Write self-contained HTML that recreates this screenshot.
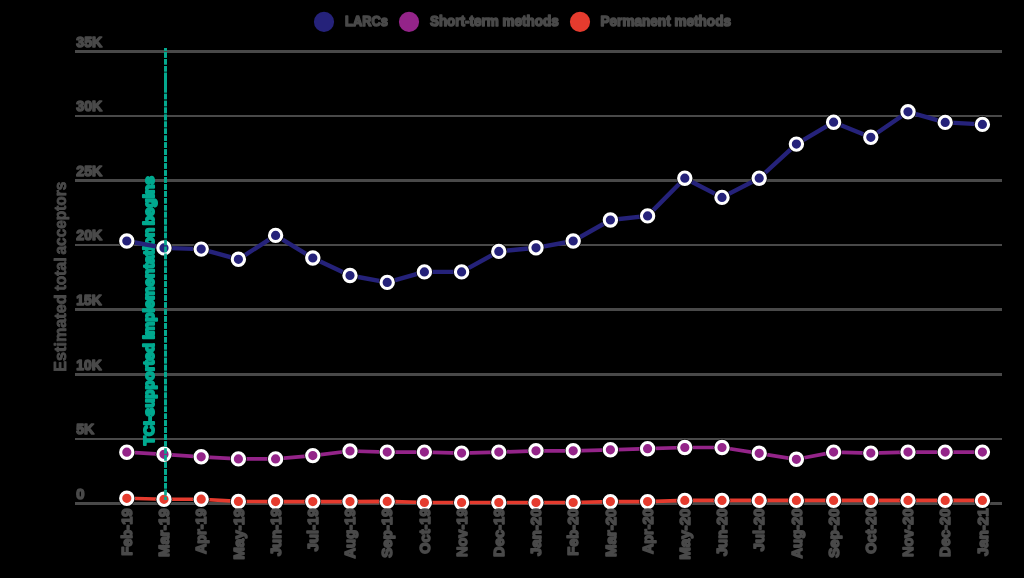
<!DOCTYPE html>
<html><head><meta charset="utf-8"><title>chart</title>
<style>
html,body{margin:0;padding:0;background:#000;}
body{width:1024px;height:578px;overflow:hidden;}
svg{display:block;}
text{font-family:"Liberation Sans",sans-serif;font-weight:bold;}
</style></head><body>
<svg width="1024" height="578" viewBox="0 0 1024 578">
<rect width="1024" height="578" fill="#000"/>
<defs><filter id="bl" x="-10%" y="-30%" width="120%" height="160%"><feGaussianBlur stdDeviation="0.3"/></filter></defs>
<g fill="#494949" shape-rendering="crispEdges">
<rect x="75" y="50" width="927" height="3"/>
<rect x="75" y="115" width="927" height="2"/>
<rect x="75" y="179" width="927" height="3"/>
<rect x="75" y="244" width="927" height="2"/>
<rect x="75" y="308" width="927" height="3"/>
<rect x="75" y="373" width="927" height="3"/>
<rect x="75" y="438" width="927" height="2"/>
<rect x="75" y="502" width="927" height="3"/>
</g>
<g fill="#494949" stroke="#494949" stroke-width="1.6" stroke-linejoin="round" font-size="15" filter="url(#bl)">
<text x="76.3" y="46.8" textLength="26.0" lengthAdjust="spacingAndGlyphs">35K</text>
<text x="76.3" y="111.3" textLength="26.0" lengthAdjust="spacingAndGlyphs">30K</text>
<text x="76.3" y="175.8" textLength="26.0" lengthAdjust="spacingAndGlyphs">25K</text>
<text x="76.3" y="240.3" textLength="26.0" lengthAdjust="spacingAndGlyphs">20K</text>
<text x="76.3" y="304.8" textLength="25.3" lengthAdjust="spacingAndGlyphs">15K</text>
<text x="76.3" y="369.8" textLength="25.3" lengthAdjust="spacingAndGlyphs">10K</text>
<text x="76.3" y="434.3" textLength="18.0" lengthAdjust="spacingAndGlyphs">5K</text>
<text x="76.3" y="498.8" textLength="8.2" lengthAdjust="spacingAndGlyphs">0</text>
</g>
<g filter="url(#bl)">
<text transform="translate(65.8,371.75) rotate(-90)" fill="#494949" stroke="#494949" stroke-width="0.9" stroke-linejoin="round" font-size="16.3" lengthAdjust="spacingAndGlyphs" textLength="77.4">Estimated</text>
<text transform="translate(65.8,290.40) rotate(-90)" fill="#494949" stroke="#494949" stroke-width="0.9" stroke-linejoin="round" font-size="16.3" lengthAdjust="spacingAndGlyphs" textLength="33.0">total</text>
<text transform="translate(65.8,254.50) rotate(-90)" fill="#494949" stroke="#494949" stroke-width="0.9" stroke-linejoin="round" font-size="16.3" lengthAdjust="spacingAndGlyphs" textLength="72.8">acceptors</text>
</g>
<circle cx="324" cy="21.8" r="10.1" fill="#25227a"/>
<circle cx="409" cy="21.8" r="10.1" fill="#942489"/>
<circle cx="580" cy="21.8" r="10.1" fill="#e53b2e"/>
<g fill="#494949" stroke="#494949" stroke-width="1.6" stroke-linejoin="round" font-size="15" filter="url(#bl)">
<text x="345.0" y="25.8" textLength="43.0" lengthAdjust="spacingAndGlyphs">LARCs</text>
<text x="429.9" y="25.8" textLength="128.8" lengthAdjust="spacingAndGlyphs">Short-term methods</text>
<text x="600.5" y="25.8" textLength="130.5" lengthAdjust="spacingAndGlyphs">Permanent methods</text>
</g>
<g filter="url(#bl)">
<text transform="translate(153.8,445.20) rotate(-90)" font-size="15" fill="#05a98f" stroke="#05a98f" stroke-width="2.1" stroke-linejoin="round" lengthAdjust="spacingAndGlyphs" textLength="102.1">TCI-supported</text>
<text transform="translate(153.8,339.35) rotate(-90)" font-size="15" fill="#05a98f" stroke="#05a98f" stroke-width="2.1" stroke-linejoin="round" lengthAdjust="spacingAndGlyphs" textLength="111.7">implementation</text>
<text transform="translate(153.8,225.25) rotate(-90)" font-size="15" fill="#05a98f" stroke="#05a98f" stroke-width="2.1" stroke-linejoin="round" lengthAdjust="spacingAndGlyphs" textLength="48.9">begins</text>
</g>
<line x1="165.5" y1="48" x2="165.5" y2="500" stroke="#05a98f" stroke-width="3" stroke-dasharray="5.65 1.3" stroke-dashoffset="2.95"/>
<line x1="165.5" y1="72.8" x2="165.5" y2="91.6" stroke="#05a98f" stroke-width="3"/>
<polyline points="126.8,241.0 164.0,247.9 201.2,249.1 238.4,259.3 275.6,235.4 312.8,258.0 350.0,275.5 387.2,282.4 424.4,271.9 461.6,271.9 498.8,251.4 536.0,247.8 573.2,241.0 610.4,220.0 647.6,215.9 684.8,178.2 722.0,197.4 759.2,178.2 796.4,144.1 833.6,122.2 870.8,137.3 908.0,111.8 945.2,122.4 982.4,124.4" fill="none" stroke="#25227a" stroke-width="4.4" stroke-linejoin="round"/>
<g fill="#000">
<circle cx="126.8" cy="241.0" r="8.3"/><circle cx="164.0" cy="247.9" r="8.3"/><circle cx="201.2" cy="249.1" r="8.3"/><circle cx="238.4" cy="259.3" r="8.3"/><circle cx="275.6" cy="235.4" r="8.3"/><circle cx="312.8" cy="258.0" r="8.3"/><circle cx="350.0" cy="275.5" r="8.3"/><circle cx="387.2" cy="282.4" r="8.3"/><circle cx="424.4" cy="271.9" r="8.3"/><circle cx="461.6" cy="271.9" r="8.3"/><circle cx="498.8" cy="251.4" r="8.3"/><circle cx="536.0" cy="247.8" r="8.3"/><circle cx="573.2" cy="241.0" r="8.3"/><circle cx="610.4" cy="220.0" r="8.3"/><circle cx="647.6" cy="215.9" r="8.3"/><circle cx="684.8" cy="178.2" r="8.3"/><circle cx="722.0" cy="197.4" r="8.3"/><circle cx="759.2" cy="178.2" r="8.3"/><circle cx="796.4" cy="144.1" r="8.3"/><circle cx="833.6" cy="122.2" r="8.3"/><circle cx="870.8" cy="137.3" r="8.3"/><circle cx="908.0" cy="111.8" r="8.3"/><circle cx="945.2" cy="122.4" r="8.3"/><circle cx="982.4" cy="124.4" r="8.3"/>
</g>
<g fill="#25227a" stroke="#fff" stroke-width="3.1">
<circle cx="126.8" cy="241.0" r="6.15"/><circle cx="164.0" cy="247.9" r="6.15"/><circle cx="201.2" cy="249.1" r="6.15"/><circle cx="238.4" cy="259.3" r="6.15"/><circle cx="275.6" cy="235.4" r="6.15"/><circle cx="312.8" cy="258.0" r="6.15"/><circle cx="350.0" cy="275.5" r="6.15"/><circle cx="387.2" cy="282.4" r="6.15"/><circle cx="424.4" cy="271.9" r="6.15"/><circle cx="461.6" cy="271.9" r="6.15"/><circle cx="498.8" cy="251.4" r="6.15"/><circle cx="536.0" cy="247.8" r="6.15"/><circle cx="573.2" cy="241.0" r="6.15"/><circle cx="610.4" cy="220.0" r="6.15"/><circle cx="647.6" cy="215.9" r="6.15"/><circle cx="684.8" cy="178.2" r="6.15"/><circle cx="722.0" cy="197.4" r="6.15"/><circle cx="759.2" cy="178.2" r="6.15"/><circle cx="796.4" cy="144.1" r="6.15"/><circle cx="833.6" cy="122.2" r="6.15"/><circle cx="870.8" cy="137.3" r="6.15"/><circle cx="908.0" cy="111.8" r="6.15"/><circle cx="945.2" cy="122.4" r="6.15"/><circle cx="982.4" cy="124.4" r="6.15"/>
</g>
<polyline points="126.8,452.2 164.0,454.3 201.2,456.8 238.4,458.9 275.6,458.9 312.8,455.6 350.0,451.0 387.2,452.1 424.4,452.1 461.6,453.1 498.8,452.1 536.0,450.8 573.2,450.8 610.4,449.8 647.6,448.7 684.8,447.5 722.0,447.5 759.2,453.3 796.4,459.3 833.6,452.1 870.8,453.1 908.0,452.1 945.2,452.1 982.4,452.1" fill="none" stroke="#942489" stroke-width="3.7" stroke-linejoin="round"/>
<g fill="#000">
<circle cx="126.8" cy="452.2" r="8.3"/><circle cx="164.0" cy="454.3" r="8.3"/><circle cx="201.2" cy="456.8" r="8.3"/><circle cx="238.4" cy="458.9" r="8.3"/><circle cx="275.6" cy="458.9" r="8.3"/><circle cx="312.8" cy="455.6" r="8.3"/><circle cx="350.0" cy="451.0" r="8.3"/><circle cx="387.2" cy="452.1" r="8.3"/><circle cx="424.4" cy="452.1" r="8.3"/><circle cx="461.6" cy="453.1" r="8.3"/><circle cx="498.8" cy="452.1" r="8.3"/><circle cx="536.0" cy="450.8" r="8.3"/><circle cx="573.2" cy="450.8" r="8.3"/><circle cx="610.4" cy="449.8" r="8.3"/><circle cx="647.6" cy="448.7" r="8.3"/><circle cx="684.8" cy="447.5" r="8.3"/><circle cx="722.0" cy="447.5" r="8.3"/><circle cx="759.2" cy="453.3" r="8.3"/><circle cx="796.4" cy="459.3" r="8.3"/><circle cx="833.6" cy="452.1" r="8.3"/><circle cx="870.8" cy="453.1" r="8.3"/><circle cx="908.0" cy="452.1" r="8.3"/><circle cx="945.2" cy="452.1" r="8.3"/><circle cx="982.4" cy="452.1" r="8.3"/>
</g>
<g fill="#942489" stroke="#fff" stroke-width="3.1">
<circle cx="126.8" cy="452.2" r="6.15"/><circle cx="164.0" cy="454.3" r="6.15"/><circle cx="201.2" cy="456.8" r="6.15"/><circle cx="238.4" cy="458.9" r="6.15"/><circle cx="275.6" cy="458.9" r="6.15"/><circle cx="312.8" cy="455.6" r="6.15"/><circle cx="350.0" cy="451.0" r="6.15"/><circle cx="387.2" cy="452.1" r="6.15"/><circle cx="424.4" cy="452.1" r="6.15"/><circle cx="461.6" cy="453.1" r="6.15"/><circle cx="498.8" cy="452.1" r="6.15"/><circle cx="536.0" cy="450.8" r="6.15"/><circle cx="573.2" cy="450.8" r="6.15"/><circle cx="610.4" cy="449.8" r="6.15"/><circle cx="647.6" cy="448.7" r="6.15"/><circle cx="684.8" cy="447.5" r="6.15"/><circle cx="722.0" cy="447.5" r="6.15"/><circle cx="759.2" cy="453.3" r="6.15"/><circle cx="796.4" cy="459.3" r="6.15"/><circle cx="833.6" cy="452.1" r="6.15"/><circle cx="870.8" cy="453.1" r="6.15"/><circle cx="908.0" cy="452.1" r="6.15"/><circle cx="945.2" cy="452.1" r="6.15"/><circle cx="982.4" cy="452.1" r="6.15"/>
</g>
<polyline points="126.8,498.3 164.0,499.3 201.2,499.2 238.4,501.4 275.6,501.6 312.8,501.6 350.0,501.6 387.2,501.4 424.4,502.5 461.6,502.5 498.8,502.5 536.0,502.5 573.2,502.5 610.4,501.6 647.6,501.6 684.8,500.4 722.0,500.4 759.2,500.4 796.4,500.4 833.6,500.4 870.8,500.4 908.0,500.4 945.2,500.4 982.4,500.4" fill="none" stroke="#e53b2e" stroke-width="3.6" stroke-linejoin="round"/>
<g fill="#000">
<circle cx="126.8" cy="498.3" r="8.3"/><circle cx="164.0" cy="499.3" r="8.3"/><circle cx="201.2" cy="499.2" r="8.3"/><circle cx="238.4" cy="501.4" r="8.3"/><circle cx="275.6" cy="501.6" r="8.3"/><circle cx="312.8" cy="501.6" r="8.3"/><circle cx="350.0" cy="501.6" r="8.3"/><circle cx="387.2" cy="501.4" r="8.3"/><circle cx="424.4" cy="502.5" r="8.3"/><circle cx="461.6" cy="502.5" r="8.3"/><circle cx="498.8" cy="502.5" r="8.3"/><circle cx="536.0" cy="502.5" r="8.3"/><circle cx="573.2" cy="502.5" r="8.3"/><circle cx="610.4" cy="501.6" r="8.3"/><circle cx="647.6" cy="501.6" r="8.3"/><circle cx="684.8" cy="500.4" r="8.3"/><circle cx="722.0" cy="500.4" r="8.3"/><circle cx="759.2" cy="500.4" r="8.3"/><circle cx="796.4" cy="500.4" r="8.3"/><circle cx="833.6" cy="500.4" r="8.3"/><circle cx="870.8" cy="500.4" r="8.3"/><circle cx="908.0" cy="500.4" r="8.3"/><circle cx="945.2" cy="500.4" r="8.3"/><circle cx="982.4" cy="500.4" r="8.3"/>
</g>
<g fill="#e53b2e" stroke="#fff" stroke-width="3.1">
<circle cx="126.8" cy="498.3" r="6.15"/><circle cx="164.0" cy="499.3" r="6.15"/><circle cx="201.2" cy="499.2" r="6.15"/><circle cx="238.4" cy="501.4" r="6.15"/><circle cx="275.6" cy="501.6" r="6.15"/><circle cx="312.8" cy="501.6" r="6.15"/><circle cx="350.0" cy="501.6" r="6.15"/><circle cx="387.2" cy="501.4" r="6.15"/><circle cx="424.4" cy="502.5" r="6.15"/><circle cx="461.6" cy="502.5" r="6.15"/><circle cx="498.8" cy="502.5" r="6.15"/><circle cx="536.0" cy="502.5" r="6.15"/><circle cx="573.2" cy="502.5" r="6.15"/><circle cx="610.4" cy="501.6" r="6.15"/><circle cx="647.6" cy="501.6" r="6.15"/><circle cx="684.8" cy="500.4" r="6.15"/><circle cx="722.0" cy="500.4" r="6.15"/><circle cx="759.2" cy="500.4" r="6.15"/><circle cx="796.4" cy="500.4" r="6.15"/><circle cx="833.6" cy="500.4" r="6.15"/><circle cx="870.8" cy="500.4" r="6.15"/><circle cx="908.0" cy="500.4" r="6.15"/><circle cx="945.2" cy="500.4" r="6.15"/><circle cx="982.4" cy="500.4" r="6.15"/>
</g>
<line x1="165.5" y1="48" x2="165.5" y2="500" stroke="#05a98f" stroke-width="2.7" stroke-dasharray="5.65 1.3" stroke-dashoffset="2.95"/>
<g fill="#494949" stroke="#494949" stroke-width="1.6" stroke-linejoin="round" font-size="15" filter="url(#bl)" text-anchor="end">
<text transform="translate(131.9,508.5) rotate(-90) scale(0.97882152,1)">Feb-19</text>
<text transform="translate(169.1,508.5) rotate(-90) scale(1.00608,1)">Mar-19</text>
<text transform="translate(206.3,508.5) rotate(-90) scale(0.9590143200000001,1)">Apr-19</text>
<text transform="translate(243.5,508.5) rotate(-90) scale(1.0105602,1)">May-19</text>
<text transform="translate(280.7,508.5) rotate(-90) scale(0.98512,1)">Jun-19</text>
<text transform="translate(317.9,508.5) rotate(-90) scale(0.98512,1)">Jul-19</text>
<text transform="translate(355.1,508.5) rotate(-90) scale(0.98512,1)">Aug-19</text>
<text transform="translate(392.3,508.5) rotate(-90) scale(0.9995027519999999,1)">Sep-19</text>
<text transform="translate(429.5,508.5) rotate(-90) scale(0.9694,1)">Oct-19</text>
<text transform="translate(466.7,508.5) rotate(-90) scale(0.9729045119999999,1)">Nov-19</text>
<text transform="translate(503.9,508.5) rotate(-90) scale(0.98512,1)">Dec-19</text>
<text transform="translate(541.1,508.5) rotate(-90) scale(0.9998967999999999,1)">Jan-20</text>
<text transform="translate(578.3,508.5) rotate(-90) scale(0.97882152,1)">Feb-20</text>
<text transform="translate(615.5,508.5) rotate(-90) scale(1.00608,1)">Mar-20</text>
<text transform="translate(652.7,508.5) rotate(-90) scale(0.9590143200000001,1)">Apr-20</text>
<text transform="translate(689.9,508.5) rotate(-90) scale(1.0105602,1)">May-20</text>
<text transform="translate(727.1,508.5) rotate(-90) scale(0.98512,1)">Jun-20</text>
<text transform="translate(764.3,508.5) rotate(-90) scale(0.98512,1)">Jul-20</text>
<text transform="translate(801.5,508.5) rotate(-90) scale(0.98512,1)">Aug-20</text>
<text transform="translate(838.7,508.5) rotate(-90) scale(0.9995027519999999,1)">Sep-20</text>
<text transform="translate(875.9,508.5) rotate(-90) scale(0.9694,1)">Oct-20</text>
<text transform="translate(913.1,508.5) rotate(-90) scale(0.9729045119999999,1)">Nov-20</text>
<text transform="translate(950.3,508.5) rotate(-90) scale(0.98512,1)">Dec-20</text>
<text transform="translate(987.5,508.5) rotate(-90) scale(0.9998967999999999,1)">Jan-21</text>
</g>
</svg>
</body></html>
